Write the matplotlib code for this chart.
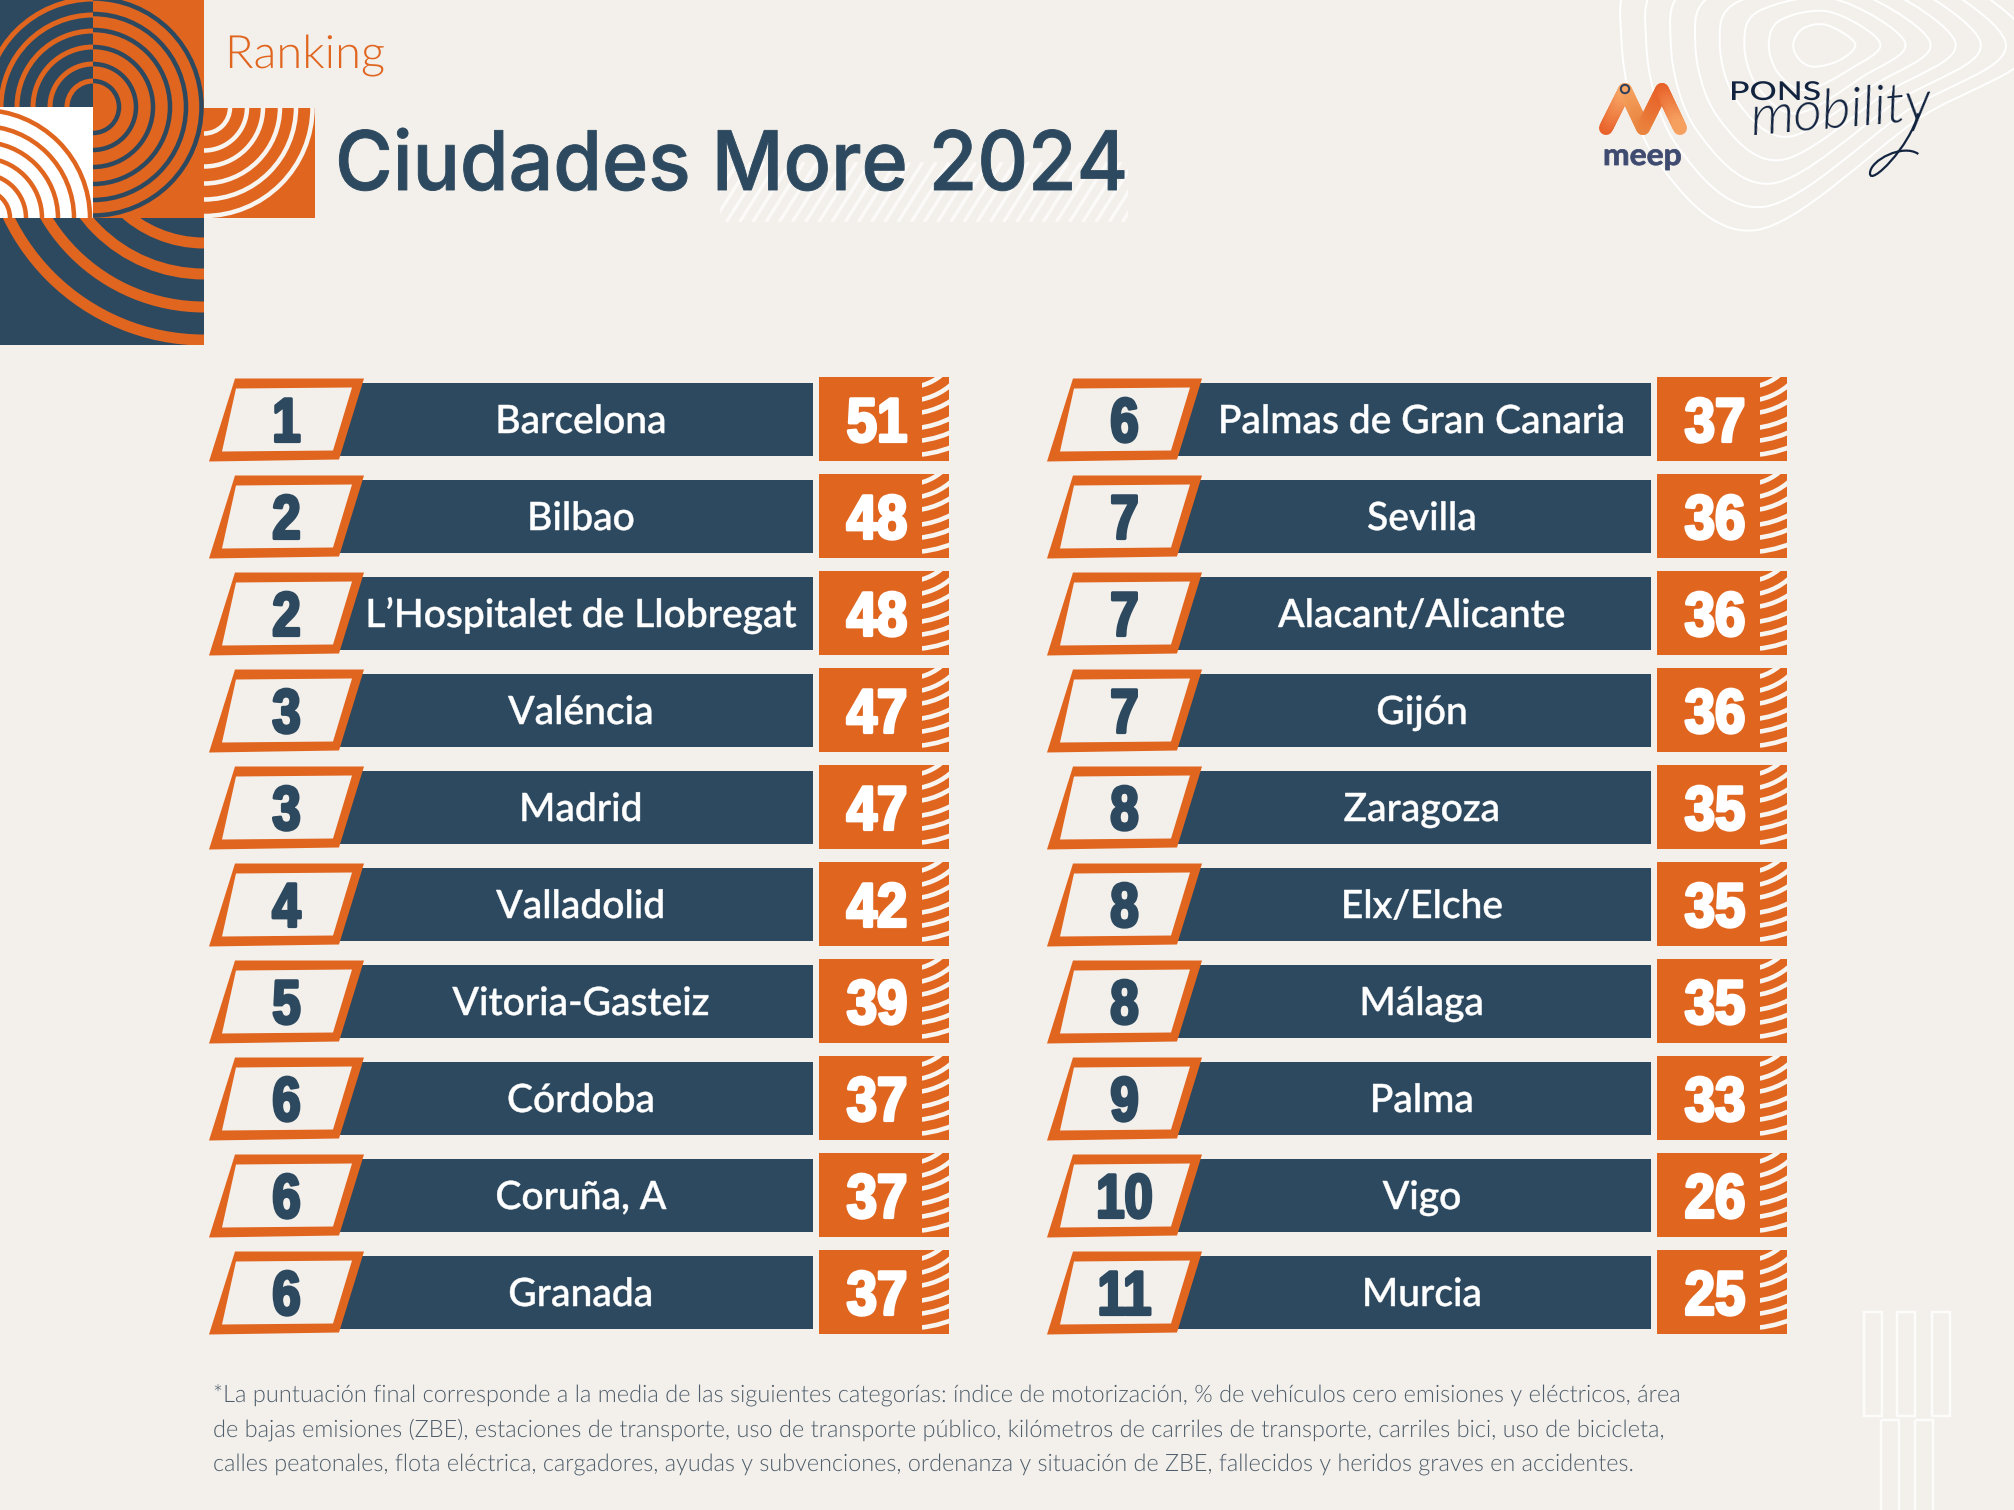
import os
import numpy as np
import matplotlib
matplotlib.use("Agg")
import matplotlib.pyplot as plt
from matplotlib import font_manager as fm
from matplotlib.patches import Rectangle, Circle, Polygon, PathPatch
from matplotlib.path import Path
from matplotlib.transforms import Affine2D
import matplotlib.patheffects as pe

# ---------- data ----------
ranks_left = ["1", "2", "2", "3", "3", "4", "5", "6", "6", "6"]
cities_left = ["Barcelona", "Bilbao", "L\u2019Hospitalet de Llobregat", "Valéncia", "Madrid",
               "Valladolid", "Vitoria-Gasteiz", "Córdoba", "Coruña, A", "Granada"]
scores_left = [51, 48, 48, 47, 47, 42, 39, 37, 37, 37]
ranks_right = ["6", "7", "7", "7", "8", "8", "8", "9", "10", "11"]
cities_right = ["Palmas de Gran Canaria", "Sevilla", "Alacant/Alicante", "Gijón", "Zaragoza",
                "Elx/Elche", "Málaga", "Palma", "Vigo", "Murcia"]
scores_right = [37, 36, 36, 36, 35, 35, 35, 33, 26, 25]
title = "Ciudades More 2024"
kicker = "Ranking"
footnote = [
    "*La puntuación final corresponde a la media de las siguientes categorías: índice de motorización, % de vehículos cero emisiones y eléctricos, área",
    "de bajas emisiones (ZBE), estaciones de transporte, uso de transporte público, kilómetros de carriles de transporte, carriles bici, uso de bicicleta,",
    "calles peatonales, flota eléctrica, cargadores, ayudas y subvenciones, ordenanza y situación de ZBE, fallecidos y heridos graves en accidentes.",
]
footnote_widths = [1469, 1453, 1422]

BG = "#f3f0eb"
NAVY = "#2d495f"
ORANGE = "#e0651f"

def fs(px):
    return px * 0.72

def lato_file(stem):
    for f in fm.fontManager.ttflist:
        if os.path.splitext(os.path.basename(f.fname))[0].lower() == stem.lower():
            return f.fname
    return None

def fp(stem, px):
    path = lato_file(stem)
    if path:
        return fm.FontProperties(fname=path, size=fs(px))
    return fm.FontProperties(family="Roboto", weight="light", size=fs(px))

fig = plt.figure(figsize=(20.14, 15.10), dpi=100, facecolor=BG)
ax = fig.add_axes([0, 0, 1, 1])
ax.set_xlim(0, 2014)
ax.set_ylim(1510, 0)
ax.axis("off")
renderer = fig.canvas.get_renderer()

class XScale(pe.AbstractPathEffect):
    """Draw text squeezed or widened about a pivot, optionally with a thickening stroke."""
    def __init__(self, pivot, sx=1.0, stroke=0.0):
        super().__init__()
        self.pivot, self.sx, self.stroke = pivot, sx, stroke

    def draw_path(self, renderer, gc, tpath, affine, rgbFace=None):
        px = ax.transData.transform((self.pivot, 0))[0]
        a2 = affine + Affine2D().translate(-px, 0).scale(self.sx, 1).translate(px, 0)
        gc0 = renderer.new_gc()
        gc0.copy_properties(gc)
        gc0.set_linewidth(fs(self.stroke))
        if self.stroke:
            gc0.set_foreground(rgbFace)
        renderer.draw_path(gc0, tpath, a2, rgbFace)
        gc0.restore()

def fit(t, x_left, width, stroke=0.0):
    w = t.get_window_extent(renderer).width
    t.set_path_effects([XScale(x_left, width / w, stroke)])

def rect(x0, y0, x1, y1, color, z=1):
    ax.add_patch(Rectangle((x0, y0), x1 - x0, y1 - y0, fc=color, ec="none", zorder=z))

def rings(cx, cy, radii, width, color, clip, z=2):
    clip_patch = Rectangle((clip[0], clip[1]), clip[2] - clip[0], clip[3] - clip[1], transform=ax.transData)
    for r in radii:
        c = Circle((cx, cy), r, fc="none", ec=color, lw=fs(width), zorder=z)
        ax.add_patch(c)
        c.set_clip_path(clip_patch)

# ---------- corner graphic ----------
rect(0, 0, 93, 107, NAVY)
rings(93, 107, [26, 43, 60, 76, 92, 108], 5, ORANGE, (0, 0, 93, 107))
rect(93, 0, 203.5, 218, ORANGE)
rings(93, 107, [26, 43, 60, 77, 93, 108.5], 4.5, NAVY, (93, 0, 203.5, 218))
rect(0, 107, 93, 218, "white")
rings(-18, 218, [28, 44, 60, 76, 92, 108], 4.5, ORANGE, (0, 107, 93, 218))
rect(0, 218, 204, 345, NAVY)
rings(204, 123, [120, 151, 184, 217], 11, ORANGE, (0, 218, 204, 345))
rect(203.5, 108, 314.5, 218, ORANGE)
rings(204, 107.5, [26, 43, 59, 76, 92, 108.5], 4.5, "#f8f5f0", (204, 108, 314.5, 218))

# ---------- kicker and title ----------
t = ax.text(225, 68, kicker, fontproperties=fp("Lato-Light", 46), color=ORANGE, ha="left", va="baseline", zorder=5)
fit(t, 225, 160)
hatch_clip = Rectangle((720, 162), 408, 60, transform=ax.transData)
for x0 in np.arange(700, 1140, 13.2):
    ln, = ax.plot([x0, x0 + 38], [222, 162], color="white", lw=fs(3.4), alpha=0.7, zorder=3, solid_capstyle="butt")
    ln.set_clip_path(hatch_clip)
t = ax.text(335, 190, title, family="Inter", weight="medium", fontsize=fs(82), color=NAVY, ha="left", va="baseline", zorder=5)
fit(t, 335, 793, stroke=0.9)

# ---------- contour decoration ----------
inner = np.array([(730, 130), (760, 85), (830, 75), (915, 130), (870, 180), (790, 200), (745, 175)], float)
outer = np.array([(215, 130), (300, -100), (900, -200), (1440, 120), (1100, 360), (620, 690), (320, 480)], float)

def closed_spline(pts):
    n = len(pts)
    verts = [pts[0]]
    codes = [Path.MOVETO]
    for i in range(n):
        p0, p1, p2, p3 = pts[(i - 1) % n], pts[i], pts[(i + 1) % n], pts[(i + 2) % n]
        verts += [p1 + (p2 - p0) / 6, p2 - (p3 - p1) / 6, p2]
        codes += [Path.CURVE4] * 3
    return Path(verts, codes)

for s in np.linspace(0, 1, 8):
    shape = inner + (outer - inner) * s
    px = np.column_stack([1550 + shape[:, 0] / 3, shape[:, 1] / 3])
    ax.add_patch(PathPatch(closed_spline(px), fc="none", ec="white", lw=fs(2), zorder=1))

# ---------- meep logo ----------
legs = [((1606, 128), (1625, 90)), ((1625, 90), (1643, 128)), ((1643, 128), (1662, 90)), ((1662, 90), (1680, 128))]
leg_cols = [("#e8622a", "#f7a565"), ("#f7a565", "#e9853f"), ("#e9853f", "#e8622a"), ("#e8622a", "#f7a565")]
for (a, b), (c0, c1) in zip(legs, leg_cols):
    rgb0, rgb1 = np.array(matplotlib.colors.to_rgb(c0)), np.array(matplotlib.colors.to_rgb(c1))
    for s0, s1 in zip(np.linspace(0, 1, 14)[:-1], np.linspace(0, 1, 14)[1:]):
        ax.plot([a[0] + (b[0] - a[0]) * s0, a[0] + (b[0] - a[0]) * s1],
                [a[1] + (b[1] - a[1]) * s0, a[1] + (b[1] - a[1]) * s1],
                color=rgb0 + (rgb1 - rgb0) * s0, lw=fs(14), solid_capstyle="round", zorder=3)
ax.add_patch(Circle((1625, 89), 4.2, fc="#f7a565", ec="#2d3f5c", lw=fs(2), zorder=4))
t = ax.text(1603, 165, "meep", family="Lato", weight="bold", fontsize=fs(30), color="#3f4a70", ha="left", va="baseline", zorder=5)
fit(t, 1603, 79, stroke=0.8)
t = ax.text(1729, 100, "PONS", family="Lato", weight="medium", fontsize=fs(26), color="#12233f", ha="left", va="baseline", zorder=5)
fit(t, 1729, 92)
ax.text(1752, 135, "mobility", fontproperties=fp("Lato-LightItalic", 56), color="#12233f",
        ha="left", va="baseline", rotation=5, rotation_mode="anchor", zorder=5)
tail = np.array([(1105, 340), (1080, 440), (960, 560), (960, 520), (960, 480), (1060, 430), (1105, 462)], float)
tail_px = np.column_stack([1550 + tail[:, 0] / 3, tail[:, 1] / 3])
ax.add_patch(PathPatch(Path(tail_px, [Path.MOVETO] + [Path.CURVE4] * 6), fc="none", ec="#12233f", lw=fs(2.2), zorder=5))

# ---------- ranking rows ----------
def draw_row(dx, cy, rank, city, score):
    rect(335 + dx, cy - 36.5, 812.5 + dx, cy + 36.5, NAVY, z=2)
    ax.add_patch(Polygon([(235 + dx, cy - 41), (364 + dx, cy - 41), (339 + dx, cy + 40), (209 + dx, cy + 42)],
                         closed=True, fc=ORANGE, ec="none", zorder=3))
    ax.add_patch(Polygon([(236 + dx, cy - 31), (352 + dx, cy - 32), (333 + dx, cy + 31), (222 + dx, cy + 32)],
                         closed=True, fc=BG, ec="none", zorder=4))
    t = ax.text(286.5 + dx, cy + 22, rank, family="Liberation Sans", weight="bold", fontsize=fs(62), color=NAVY,
                ha="center", va="baseline", zorder=5)
    t.set_path_effects([XScale(286.5 + dx, 0.82, 3.2)])
    cx = 581 + dx + (3 if dx else 0)
    t = ax.text(cx, cy + 13.5, city, family="Lato", weight="medium", fontsize=fs(39), color="white",
                ha="center", va="baseline", zorder=5)
    t.set_path_effects([XScale(cx, 1.0, 0.5)])
    rect(819 + dx, cy - 43, 948.5 + dx, cy + 41.5, ORANGE, z=2)
    rings(908 + dx, cy - 84, [51.8, 65.4, 78.2, 93, 105.9, 119.8], 4.6, "#f8f5f0",
          (921.7 + dx, cy - 43, 948.5 + dx, cy + 41.5), z=3)
    t = ax.text(877 + dx, cy + 22, str(score), family="Liberation Sans", weight="bold", fontsize=fs(62), color="white",
                ha="center", va="baseline", zorder=5)
    t.set_path_effects([XScale(877 + dx, 0.88, 3.2)])

row_ys = 419.5 + 97.0 * np.arange(len(cities_left))
for y, r, c, s in zip(row_ys, ranks_left, cities_left, scores_left):
    draw_row(0, y, r, c, s)
for y, r, c, s in zip(row_ys, ranks_right, cities_right, scores_right):
    draw_row(838, y, r, c, s)

# ---------- footnote ----------
for base, line, w in zip([1402, 1437, 1471], footnote, footnote_widths):
    t = ax.text(213, base, line, fontproperties=fp("Lato-Light", 24), color="#4f5e6c", ha="left", va="baseline", zorder=5)
    fit(t, 213, w)

# ---------- lower-right decoration ----------
for x0, x1 in [(1864, 1882), (1897, 1915), (1932, 1950)]:
    ax.add_patch(Rectangle((x0, 1312), x1 - x0, 104, fc="none", ec="white", lw=fs(2.5), alpha=0.85, zorder=1))
for x0, x1 in [(1881, 1899), (1915, 1933)]:
    ax.add_patch(Rectangle((x0, 1420), x1 - x0, 120, fc="none", ec="white", lw=fs(2.5), alpha=0.85, zorder=1))

fig.savefig("out.png", dpi=100, facecolor=BG)
